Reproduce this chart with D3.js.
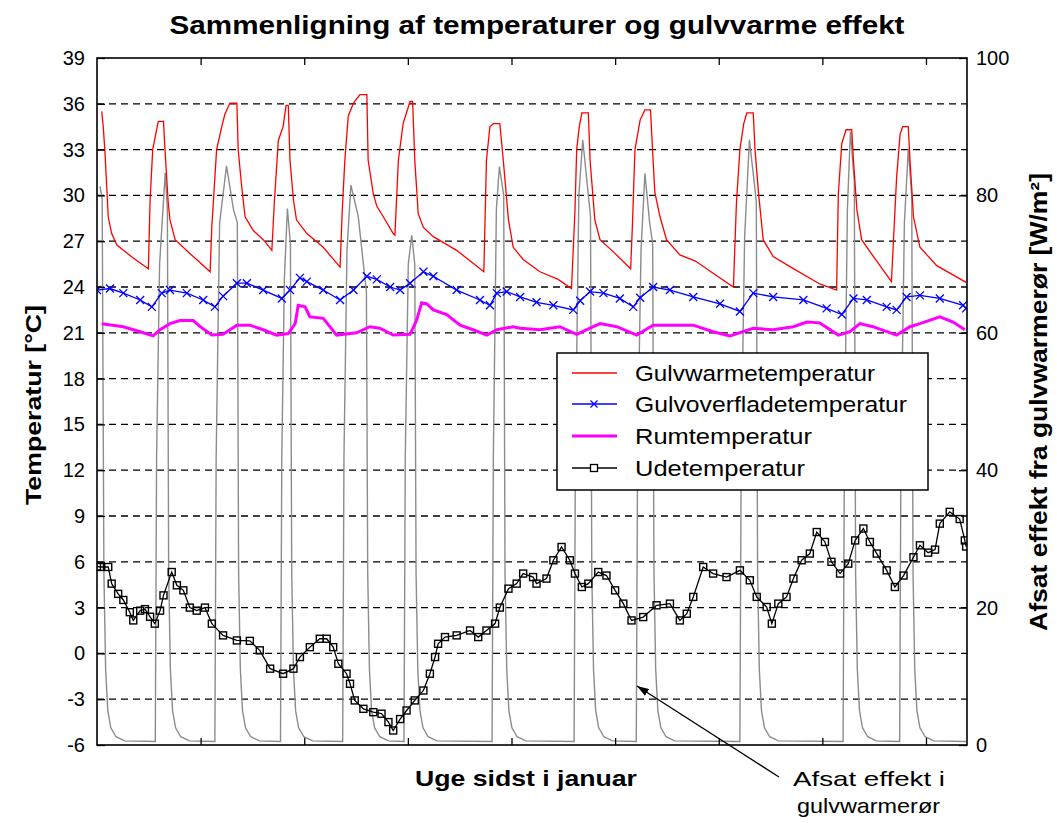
<!DOCTYPE html>
<html>
<head>
<meta charset="utf-8">
<script src="https://cdn.jsdelivr.net/npm/d3@7"></script>
<style>
  body { margin: 0; background: #fff; }
  svg { display: block; }
  text { font-family: "Liberation Sans", Arial, sans-serif; fill: #000; }
</style>
</head>
<body>
<svg id="chart" width="1057" height="823"></svg>
<script>
// ---- data (hours from start of the week) ----
const hourTicks  = [24, 48, 72, 96, 120, 144, 168, 192];
const tempTicks  = [-6, -3, 0, 3, 6, 9, 12, 15, 18, 21, 24, 27, 30, 33, 36, 39];
const powerTicks = [0, 20, 40, 60, 80, 100];

const seriesNames = ['Gulvwarmetemperatur', 'Gulvoverfladetemperatur', 'Rumtemperatur', 'Udetemperatur'];

// Gulvvarmetemperatur [°C]
const pipeTemp = [
  [1.1,35.5],[1.45,34.5],[1.85,32.8],[2.25,30.6],[2.6,28.6],[3.4,27.5],[4.6,26.75],[6.1,26.4],[8.4,25.9],[11.9,25.2],
  [12.3,29.7],[12.9,33.0],[13.8,34.3],[14.2,34.85],[15.4,34.85],[15.75,33.0],[16.5,29.5],[16.9,28.4],[18.1,27.1],[21.5,26.2],[26.2,25.0],
  [26.6,28.0],[27.7,33.0],[28.9,34.5],[29.6,35.3],[30.8,36.05],[32.4,36.05],[32.7,33.0],[33.5,30.6],[34.3,28.6],[36.2,27.7],[38.5,27.1],[40.5,26.4],
  [41.1,29.7],[42.0,33.6],[43.1,34.5],[43.8,35.9],[44.3,35.9],[44.7,32.3],[45.5,29.7],[46.2,28.4],[48.6,27.5],[52.4,26.6],[56.3,25.3],
  [56.8,29.0],[57.4,32.3],[58.2,35.2],[59.4,36.05],[60.9,36.6],[62.5,36.6],[62.8,32.3],[64.0,30.1],[64.8,29.3],[66.3,28.6],[68.6,27.5],[69.0,27.4],
  [69.8,32.3],[70.9,34.7],[72.5,36.15],[73.1,36.15],[73.6,32.3],[74.4,28.8],[75.6,27.9],[77.9,27.3],[83.3,26.4],[89.6,25.0],
  [90.2,32.3],[91.0,34.5],[91.8,34.7],[93.3,34.7],[94.1,32.3],[95.3,28.4],[96.4,26.6],[98.7,25.8],[102.6,25.0],[106.8,24.5],[109.9,23.9],
  [110.7,29.0],[111.1,33.0],[111.7,34.5],[112.3,35.4],[113.8,35.4],[114.2,32.3],[115.3,28.4],[116.5,27.1],[119.6,26.3],[123.6,25.2],
  [124.0,28.0],[124.6,33.0],[125.8,34.95],[126.9,35.6],[128.2,35.6],[128.5,33.9],[129.2,30.2],[130.4,28.6],[131.9,27.1],[135.0,26.1],[138.6,25.7],[143.2,24.8],[147.4,24.0],
  [148.1,29.5],[148.9,33.0],[149.8,34.7],[150.5,35.4],[152.0,35.4],[152.4,33.0],[153.2,30.2],[154.3,27.1],[156.6,26.0],[161.3,25.2],[167.4,24.2],[171.3,23.8],
  [171.7,30.1],[172.5,33.4],[173.5,34.3],[174.8,34.3],[175.2,32.3],[176.0,29.05],[177.1,27.1],[179.8,26.0],[184.0,24.35],
  [185.2,31.2],[186.0,34.0],[186.6,34.5],[187.9,34.5],[188.3,32.3],[189.1,28.6],[190.6,26.6],[194.5,25.4],[201.3,24.3]
];

// Gulvoverfladetemperatur [°C]
const surfaceTemp = [
  [0,23.8],[3.0,23.9],[6.1,23.6],[10.0,23.15],[12.7,22.7],[15.0,23.6],[16.9,23.8],[20.8,23.6],[24.6,23.15],[27.3,22.7],
  [29.2,23.4],[32.4,24.25],[34.7,24.25],[38.5,23.8],[42.8,23.25],[44.7,23.8],[47.0,24.6],[48.6,24.35],[52.4,23.8],[56.3,23.15],
  [59.4,23.8],[62.5,24.7],[64.8,24.5],[67.9,24.0],[70.2,23.8],[72.5,24.25],[75.6,25.0],[77.9,24.7],[83.3,23.8],[88.7,23.15],
  [91.0,22.8],[92.6,23.6],[94.9,23.7],[98.0,23.35],[101.8,23.0],[105.7,22.8],[110.3,22.5],[111.9,23.1],[114.2,23.7],[117.3,23.6],
  [121.1,23.25],[124.2,22.7],[125.8,23.3],[128.8,24.0],[132.7,23.8],[138.1,23.35],[144.3,22.9],[148.9,22.4],[152.0,23.6],[156.6,23.35],
  [163.6,23.15],[169.0,22.6],[172.5,22.2],[175.2,23.25],[178.3,23.15],[182.9,22.7],[185.2,22.5],[187.5,23.35],[190.6,23.45],[195.2,23.25],
  [200.6,22.8],[201.3,22.6]
];

// Rumtemperatur [°C]
const roomTemp = [
  [1.1,21.6],[6.1,21.4],[10.0,21.07],[13.0,20.8],[14.6,21.2],[16.9,21.6],[19.2,21.8],[22.3,21.8],[23.9,21.4],[26.6,20.85],
  [29.2,20.9],[32.4,21.5],[35.4,21.5],[38.5,21.2],[41.6,20.85],[44.3,20.95],[45.9,21.6],[46.6,22.8],[48.2,22.7],[49.3,22.05],
  [52.4,21.95],[55.5,20.85],[60.1,21.0],[63.2,21.4],[65.5,21.3],[68.6,20.85],[72.5,20.9],[74.0,21.8],[75.2,22.97],[76.4,22.9],
  [77.9,22.5],[81.0,22.2],[84.1,21.5],[87.1,21.2],[90.3,20.85],[92.6,21.2],[96.4,21.4],[98.0,21.3],[102.6,21.2],[107.2,21.4],
  [111.1,20.9],[114.2,21.3],[116.5,21.6],[120.4,21.4],[125.0,20.85],[128.8,21.5],[132.7,21.5],[138.1,21.5],[142.7,21.07],[146.6,20.8],
  [152.0,21.3],[156.6,21.2],[161.3,21.4],[164.4,21.7],[167.4,21.65],[171.7,20.85],[174.4,21.07],[176.7,21.6],[179.7,21.4],[185.2,20.85],
  [188.3,21.4],[190.6,21.6],[195.2,22.05],[198.3,21.7],[201.0,21.2]
];

// Udetemperatur [°C]
const outdoorTemp = [
  [0,5.7],[0.7,5.66],[2.6,5.66],[3.4,4.57],[4.9,3.9],[6.1,3.5],[7.6,2.7],[8.4,2.16],[10.0,2.8],[11.1,2.9],[12.3,2.4],[13.4,1.95],
  [14.6,2.8],[15.4,3.8],[17.3,5.33],[18.5,4.46],[20.0,4.13],[21.5,3.0],[23.1,2.8],[25.0,3.0],[26.6,1.95],[29.2,1.18],[32.4,0.85],
  [35.4,0.82],[37.7,0.2],[40.1,-1.0],[43.1,-1.33],[45.5,-1.0],[47.0,-0.24],[49.3,0.41],[51.6,0.96],[53.2,0.96],[54.7,0.41],
  [55.9,-0.68],[57.8,-1.33],[58.6,-1.99],[59.7,-3.08],[61.7,-3.63],[64.0,-3.85],[65.9,-3.95],[67.5,-4.5],[68.6,-5.05],[70.2,-4.3],
  [71.7,-3.74],[73.6,-3.08],[75.6,-2.43],[77.1,-1.33],[78.3,-0.24],[79.0,0.63],[80.6,1.07],[83.3,1.18],[86.4,1.5],[88.3,1.07],
  [90.2,1.5],[92.2,1.95],[93.3,3.0],[95.3,4.24],[97.2,4.57],[98.7,5.23],[101.0,5.0],[101.8,4.57],[104.1,4.9],[105.7,6.1],
  [107.6,6.97],[109.5,6.1],[110.7,5.23],[112.3,4.35],[113.8,4.57],[116.1,5.33],[118.0,5.1],[120.0,4.13],[121.9,3.26],[123.8,2.16],
  [126.5,2.38],[129.6,3.15],[132.7,3.26],[135.0,2.16],[136.6,2.6],[138.1,3.7],[140.4,5.66],[142.7,5.23],[145.8,5.0],[148.9,5.44],
  [151.2,4.79],[152.8,3.7],[155.1,3.04],[156.3,1.95],[157.8,3.26],[159.7,3.7],[161.3,4.9],[163.2,6.1],[165.1,6.54],[166.7,7.95],
  [168.6,7.3],[170.1,6.0],[172.1,5.23],[174.0,5.88],[175.6,7.4],[177.5,8.18],[179.0,7.3],[180.6,6.54],[182.9,5.44],[184.8,4.35],
  [186.8,5.1],[189.1,6.3],[190.6,7.08],[192.5,6.6],[194.1,6.8],[195.2,8.5],[197.5,9.27],[199.8,8.8],[201.0,7.4],[201.3,7.0]
];

// Afsat effekt fra gulvvarmerør [W/m²] (right axis)
const heatPower = [
  [0.7,81.3],[1.2,79.5],[1.6,25],[2.0,11],[2.5,5],[3.2,2.5],[4.4,1.2],[6.4,0.6],
  [13.5,0.5],[13.8,42],[14.5,70],[15.8,83.3],[16.3,78],[16.6,25],[17.0,11],[17.5,5],[18.2,2.5],[19.4,1.2],[21.4,0.6],
  [27.3,0.5],[27.6,42],[28.4,76],[30.0,84.3],[31.6,78],[32.5,76],[32.8,25],[33.2,11],[33.7,5],[34.4,2.5],[35.6,1.2],[37.6,0.6],
  [42.5,0.5],[42.8,42],[43.4,68],[44.1,78.1],[44.8,73],[45.1,25],[45.5,11],[46.0,5],[46.7,2.5],[47.9,1.2],[49.9,0.6],
  [56.9,0.5],[57.2,42],[57.9,72],[58.8,81.5],[60.5,77],[61.7,70],[62.4,66],[62.7,25],[63.1,11],[63.6,5],[64.3,2.5],[65.5,1.2],[67.5,0.6],
  [71.1,0.5],[71.4,42],[72.1,70],[72.9,74.2],[73.6,70],[73.9,25],[74.3,11],[74.8,5],[75.5,2.5],[76.7,1.2],[78.7,0.6],
  [91.5,0.5],[91.8,42],[92.5,78],[93.2,84.2],[94.2,80],[94.5,25],[94.9,11],[95.4,5],[96.1,2.5],[97.3,1.2],[99.3,0.6],
  [110.5,0.5],[110.8,42],[111.6,80],[112.5,88.1],[113.8,80],[114.3,77],[114.6,25],[115.0,11],[115.5,5],[116.2,2.5],[117.4,1.2],[119.4,0.6],
  [124.9,0.5],[125.2,42],[126.0,72],[126.9,83.2],[128.0,76],[128.7,73],[129.0,25],[129.4,11],[129.9,5],[130.6,2.5],[131.8,1.2],[133.8,0.6],
  [148.9,0.5],[149.2,42],[150.0,74],[151.1,88.1],[152.2,82],[152.7,79],[153.0,25],[153.4,11],[153.9,5],[154.6,2.5],[155.8,1.2],[157.8,0.6],
  [172.8,0.5],[173.1,42],[173.8,78],[174.5,89.3],[175.4,82],[175.7,25],[176.1,11],[176.6,5],[177.3,2.5],[178.5,1.2],[180.5,0.6],
  [185.9,0.5],[186.2,42],[187.0,76],[187.9,86.8],[188.7,80],[189.0,25],[189.4,11],[189.9,5],[190.6,2.5],[191.8,1.2],[193.8,0.6],[201.3,0.5]
];

// ---- layout ----
var W = 1057, H = 823;
var L = 97, R = 967, T = 58, B = 745;

var svg = d3.select('#chart');

var x  = d3.scaleLinear().domain([0, 201.5]).range([L, R]);
var yL = d3.scaleLinear().domain([-6, 39]).range([B, T]);
var yR = d3.scaleLinear().domain([0, 100]).range([B, T]);

svg.append('rect').attr('width', W).attr('height', H).attr('fill', '#fff');

// dashed grid
svg.append('g').selectAll('line')
    .data(tempTicks.filter(function (t) { return t > -6 && t < 39; }))
    .join('line')
    .attr('x1', L).attr('x2', R)
    .attr('y1', function (d) { return yL(d); })
    .attr('y2', function (d) { return yL(d); })
    .attr('stroke', '#000').attr('stroke-width', 1.3)
    .attr('stroke-dasharray', '7,5');

svg.append('clipPath').attr('id', 'plotClip')
    .append('rect').attr('x', L).attr('y', T).attr('width', R - L).attr('height', B - T);

var plot = svg.append('g').attr('clip-path', 'url(#plotClip)');

var lineL = d3.line().x(function (d) { return x(d[0]); }).y(function (d) { return yL(d[1]); });
var lineR = d3.line().x(function (d) { return x(d[0]); }).y(function (d) { return yR(d[1]); });

plot.append('path').datum(heatPower).attr('d', lineR)
    .attr('fill', 'none').attr('stroke', '#8c8c8c').attr('stroke-width', 1.4);

plot.append('path').datum(pipeTemp).attr('d', lineL)
    .attr('fill', 'none').attr('stroke', '#ff0000').attr('stroke-width', 1.3);

plot.append('path').datum(surfaceTemp).attr('d', lineL)
    .attr('fill', 'none').attr('stroke', '#0000ff').attr('stroke-width', 1.3);

plot.append('g').selectAll('path')
    .data(surfaceTemp)
    .join('path')
    .attr('transform', function (d) { return 'translate(' + x(d[0]) + ',' + yL(d[1]) + ')'; })
    .attr('d', 'M-4,-4L4,4M-4,4L4,-4')
    .attr('stroke', '#0000ff').attr('stroke-width', 1.3);

plot.append('path').datum(roomTemp).attr('d', lineL)
    .attr('fill', 'none').attr('stroke', '#ff00ff').attr('stroke-width', 3);

plot.append('path').datum(outdoorTemp).attr('d', lineL)
    .attr('fill', 'none').attr('stroke', '#000').attr('stroke-width', 1.3);

plot.append('g').selectAll('rect')
    .data(outdoorTemp)
    .join('rect')
    .attr('x', function (d) { return x(d[0]) - 3.5; })
    .attr('y', function (d) { return yL(d[1]) - 3.5; })
    .attr('width', 7).attr('height', 7)
    .attr('fill', 'none').attr('stroke', '#000').attr('stroke-width', 1.4);

// ---- axes ----
function styleAxis(g) {
    g.select('.domain').remove();
    g.selectAll('.tick line').attr('stroke', '#000').attr('stroke-width', 1.3);
    g.selectAll('.tick text').attr('font-size', 20).attr('fill', '#000')
        .attr('font-family', '"Liberation Sans", Arial, sans-serif');
}

var plainNum = function (d) { return String(d); };

svg.append('g').attr('transform', 'translate(' + L + ',0)')
    .call(d3.axisLeft(yL).tickValues(tempTicks).tickSize(-8).tickPadding(12).tickFormat(plainNum))
    .call(styleAxis);

svg.append('g').attr('transform', 'translate(' + R + ',0)')
    .call(d3.axisRight(yR).tickValues(powerTicks).tickSize(-8).tickPadding(9).tickFormat(plainNum))
    .call(styleAxis);

svg.append('g').attr('transform', 'translate(0,' + B + ')')
    .call(d3.axisBottom(x).tickValues(hourTicks).tickSize(-7).tickFormat(''))
    .call(styleAxis);

svg.append('g').attr('transform', 'translate(0,' + T + ')')
    .call(d3.axisTop(x).tickValues(hourTicks).tickSize(-7).tickFormat(''))
    .call(styleAxis);

svg.append('rect')
    .attr('x', L).attr('y', T).attr('width', R - L).attr('height', B - T)
    .attr('fill', 'none').attr('stroke', '#000').attr('stroke-width', 1.6);

// ---- texts ----
svg.append('text')
    .attr('x', 537).attr('y', 34)
    .attr('text-anchor', 'middle')
    .attr('font-size', 26).attr('font-weight', 'bold')
    .attr('textLength', 735).attr('lengthAdjust', 'spacingAndGlyphs')
    .text('Sammenligning af temperaturer og gulvvarme effekt');

svg.append('text')
    .attr('transform', 'translate(41,405) rotate(-90)')
    .attr('text-anchor', 'middle')
    .attr('font-size', 22).attr('font-weight', 'bold')
    .attr('textLength', 200).attr('lengthAdjust', 'spacingAndGlyphs')
    .text('Temperatur [°C]');

svg.append('text')
    .attr('transform', 'translate(1047,402) rotate(-90)')
    .attr('text-anchor', 'middle')
    .attr('font-size', 23).attr('font-weight', 'bold')
    .attr('textLength', 458).attr('lengthAdjust', 'spacingAndGlyphs')
    .text('Afsat effekt fra gulvwarmerør [W/m²]');

svg.append('text')
    .attr('x', 526).attr('y', 786)
    .attr('text-anchor', 'middle')
    .attr('font-size', 22).attr('font-weight', 'bold')
    .attr('textLength', 222).attr('lengthAdjust', 'spacingAndGlyphs')
    .text('Uge sidst i januar');

var note = svg.append('g');
note.append('text').attr('x', 793).attr('y', 786)
    .attr('font-size', 21).attr('textLength', 152).attr('lengthAdjust', 'spacingAndGlyphs')
    .text('Afsat effekt i');
note.append('text').attr('x', 797).attr('y', 813)
    .attr('font-size', 21).attr('textLength', 143).attr('lengthAdjust', 'spacingAndGlyphs')
    .text('gulvwarmerør');

svg.append('defs').append('marker')
    .attr('id', 'arrowHead')
    .attr('viewBox', '0 0 12 8').attr('refX', 12).attr('refY', 4)
    .attr('markerWidth', 12).attr('markerHeight', 8)
    .attr('markerUnits', 'userSpaceOnUse')
    .attr('orient', 'auto')
    .append('path').attr('d', 'M0,0L12,4L0,8Z').attr('fill', '#000');

note.append('line')
    .attr('x1', 779).attr('y1', 777).attr('x2', 637).attr('y2', 686)
    .attr('stroke', '#000').attr('stroke-width', 1.3)
    .attr('marker-end', 'url(#arrowHead)');

// ---- legend ----
var legend = svg.append('g');
legend.append('rect')
    .attr('x', 557).attr('y', 353).attr('width', 371).attr('height', 137)
    .attr('fill', '#fff').attr('stroke', '#000').attr('stroke-width', 1.5);

var legendRows   = [373, 404, 436, 468];
var legendColors = ['#ff0000', '#0000ff', '#ff00ff', '#000'];
var legendWidths = [240, 272, 177, 170];
var legendStroke = [1.3, 1.3, 3, 1.3];

seriesNames.forEach(function (name, i) {
    var cy = legendRows[i];
    legend.append('line')
        .attr('x1', 572).attr('x2', 617).attr('y1', cy).attr('y2', cy)
        .attr('stroke', legendColors[i]).attr('stroke-width', legendStroke[i]);
    if (i === 1) {
        legend.append('path')
            .attr('transform', 'translate(594,' + cy + ')')
            .attr('d', 'M-3.5,-3.5L3.5,3.5M-3.5,3.5L3.5,-3.5')
            .attr('stroke', '#0000ff').attr('stroke-width', 1.2);
    }
    if (i === 3) {
        legend.append('rect')
            .attr('x', 594 - 3.5).attr('y', cy - 3.5).attr('width', 7).attr('height', 7)
            .attr('fill', '#fff').attr('stroke', '#000').attr('stroke-width', 1.3);
    }
    legend.append('text')
        .attr('x', 635).attr('y', cy + 8)
        .attr('font-size', 22)
        .attr('textLength', legendWidths[i]).attr('lengthAdjust', 'spacingAndGlyphs')
        .text(name);
});
</script>
</body>
</html>
